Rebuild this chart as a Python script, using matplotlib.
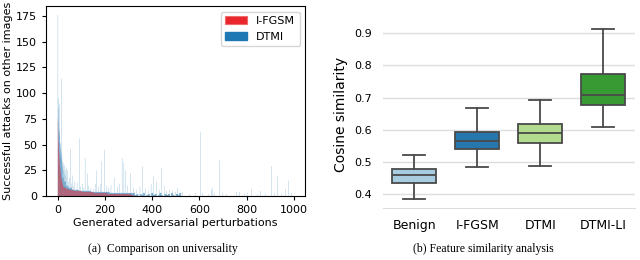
import numpy as np
import matplotlib
matplotlib.use("Agg")
import matplotlib.pyplot as plt
import seaborn as sns
from matplotlib.patches import Patch

# ---- (a) universality: successful attacks per generated perturbation ----
n_perturb = 1000
# I-FGSM counts are sorted, given as levels with run lengths
ifgsm_levels = [75, 62, 55, 51, 47, 42, 38, 35, 31, 28, 26, 24, 22, 20, 18, 17, 16, 15,
                14, 13, 12, 11, 10, 9, 8, 7, 6, 5, 4, 3, 2, 1, 0]
ifgsm_runs = [1] * 20 + [1, 1, 2, 4, 6, 12, 20, 35, 50, 60, 100, 10, 679]

# DTMI: background level (run lengths) plus individual peaks
dtmi_floor_levels = [30, 24, 18, 14, 10, 8, 6, 5, 4, 3,
                     3, 1, 2, 0, 2, 1, 3, 0, 1, 2, 0, 3, 1, 2, 0, 1, 3, 1, 0, 2,
                     1, 2, 0, 3, 1, 0, 2, 1, 3, 0, 0]
dtmi_floor_runs = [10, 8, 8, 8, 10, 16, 30, 50, 80, 100] + [7] * 30 + [470]

dtmi_peak_idx = [0, 2, 3, 4, 5, 6, 7, 8, 9, 10, 11, 12, 13, 14, 15, 16, 17, 18, 19, 20,
                 22, 24, 26, 28, 31, 34, 37, 41, 45, 50, 53, 57, 60, 66, 72, 81, 90, 96,
                 103, 110, 115, 124, 131, 140, 150, 158, 164, 172, 180, 186, 196, 205,
                 214, 225, 240, 252, 262, 272, 280, 285, 295, 309, 320, 335, 348, 360,
                 372, 386, 395, 405, 418, 430, 441, 451, 462, 475, 485, 498, 509, 520,
                 528, 560, 582, 606, 614, 640, 651, 657, 664, 687, 700, 715, 757, 769,
                 790, 806, 822, 845, 860, 880, 906, 920, 932, 950, 967, 979, 990]
dtmi_peak_val = [176, 95, 85, 72, 90, 65, 58, 62, 50, 46, 52, 40, 44, 114, 38, 36, 42, 30,
                 34, 28, 32, 25, 30, 22, 26, 20, 28, 25, 14, 18, 46, 12, 20, 10, 14, 13,
                 56, 9, 12, 8, 37, 22, 10, 8, 7, 12, 25, 9, 12, 34, 45, 10, 8, 11, 18, 9,
                 12, 37, 32, 25, 10, 22, 8, 6, 9, 29, 7, 5, 12, 19, 14, 6, 27, 10, 5, 6,
                 5, 4, 8, 3, 4, 2, 3, 62, 3, 2, 6, 8, 3, 35, 3, 2, 4, 4, 2, 3, 7, 2, 5, 2,
                 29, 3, 19, 2, 7, 15, 3]

# ---- (b) cosine similarity box plot (whiskers, quartiles, median) ----
methods = ["Benign", "I-FGSM", "DTMI", "DTMI-LI"]
whisker_low = [0.384, 0.483, 0.489, 0.610]
q1 = [0.436, 0.540, 0.560, 0.678]
median = [0.460, 0.565, 0.589, 0.708]
q3 = [0.479, 0.594, 0.619, 0.774]
whisker_high = [0.522, 0.669, 0.693, 0.912]

ifgsm = np.repeat(ifgsm_levels, ifgsm_runs)
dtmi = np.repeat(dtmi_floor_levels, dtmi_floor_runs)
dtmi[dtmi_peak_idx] = dtmi_peak_val
x = np.arange(n_perturb)

fig = plt.figure(figsize=(6.4, 2.6), dpi=100)

ax1 = fig.add_axes([0.072, 0.246, 0.405, 0.731])
ax1.bar(x, dtmi, width=0.8, color="#1f77b4", linewidth=0, snap=False)
ax1.bar(x, ifgsm, width=0.8, color="red", alpha=0.6, linewidth=0, snap=False)
ax1.set_ylim(0, None)
ax1.set_xticks([0, 200, 400, 600, 800, 1000])
ax1.set_yticks([0, 25, 50, 75, 100, 125, 150, 175])
ax1.tick_params(labelsize=8, length=3)
ax1.set_xlabel("Generated adversarial perturbations", fontsize=8, labelpad=2)
ax1.set_ylabel("Successful attacks on other images", fontsize=8, labelpad=2)
handles = [Patch(facecolor="#e8262b", edgecolor="#f06a6a", linewidth=0.8),
           Patch(color="#1f77b4")]
ax1.legend(handles, ["I-FGSM", "DTMI"], loc="upper right", fontsize=8)

# right panel
pal = [sns.desaturate(c, 0.9) for c in sns.color_palette("Paired", 4)]
ax2 = fig.add_axes([0.598, 0.2, 0.394, 0.719])
stats = []
for i, m in enumerate(methods):
    stats.append({"label": m, "whislo": whisker_low[i], "q1": q1[i], "med": median[i],
                  "q3": q3[i], "whishi": whisker_high[i], "fliers": []})
edge = "#4a4a4a"
bp = ax2.bxp(stats, positions=range(4), widths=0.7, patch_artist=True,
             showfliers=False,
             boxprops=dict(edgecolor=edge, linewidth=1.3),
             medianprops=dict(color=edge, linewidth=1.3),
             whiskerprops=dict(color=edge, linewidth=1.3),
             capprops=dict(color=edge, linewidth=1.3),
             capwidths=0.35)
for patch, c in zip(bp["boxes"], pal):
    patch.set_facecolor(c)
ax2.set_xlim(-0.5, 3.5)
ax2.set_ylim(0.357, 0.938)
ax2.set_yticks([0.4, 0.5, 0.6, 0.7, 0.8, 0.9])
ax2.set_yticklabels(["0.4", "0.5", "0.6", "0.7", "0.8", "0.9"])
ax2.grid(axis="y", color="#dddddd", linewidth=1)
ax2.set_axisbelow(True)
for s in ["top", "right", "left"]:
    ax2.spines[s].set_visible(False)
ax2.spines["bottom"].set_color("#dddddd")
ax2.tick_params(axis="both", length=0)
ax2.tick_params(axis="y", labelsize=8, pad=8)
ax2.tick_params(axis="x", labelsize=9, pad=8)
ax2.set_ylabel("Cosine similarity", fontsize=10, labelpad=4)

fig.text(0.254, 0.042, "(a)  Comparison on universality", family="Liberation Serif",
         fontsize=8.5, ha="center", va="center")
fig.text(0.755, 0.042, "(b) Feature similarity analysis", family="Liberation Serif",
         fontsize=8.5, ha="center", va="center")

fig.savefig("out.png", dpi=100)
